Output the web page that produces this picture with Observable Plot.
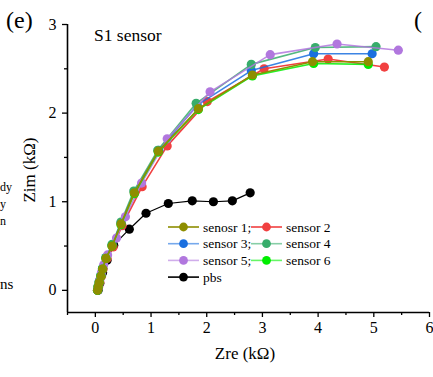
<!DOCTYPE html>
<html>
<head>
<meta charset="utf-8">
<script src="https://cdn.jsdelivr.net/npm/d3@7"></script>
<script src="https://cdn.jsdelivr.net/npm/@observablehq/plot@0.6"></script>
<style>
  body { margin: 0; background: #fff; }
  #wrap { position: relative; width: 433px; height: 377px; overflow: hidden; font-family: "Liberation Serif", Tinos, "Times New Roman", "DejaVu Serif", serif; color: #000; }
  .t { position: absolute; white-space: nowrap; line-height: 1; }
</style>
</head>
<body>
<div id="wrap"></div>
<script>
// ---- data (Zre kΩ, Zim kΩ) ----
const seriesNames = ["senosr 1;", "sensor 2", "sensor 3;", "sensor 4", "sensor 5;", "sensor 6", "pbs"];
const seriesColors = ["#8E8E00", "#F14040", "#1A6FDF", "#37AD6B", "#B177DE", "#00EE00", "#000000"];

const sensor1 = [[0.04,0.0],[0.05,0.04],[0.07,0.09],[0.10,0.16],[0.13,0.24],[0.19,0.36],[0.30,0.50],[0.46,0.75],[0.70,1.10],[1.13,1.57],[1.85,2.05],[2.82,2.43],[3.90,2.58],[4.90,2.58]];
const sensor2 = [[0.04,0.0],[0.06,0.04],[0.08,0.09],[0.11,0.16],[0.14,0.24],[0.21,0.36],[0.32,0.49],[0.48,0.73],[0.84,1.17],[1.29,1.63],[2.01,2.13],[3.03,2.50],[4.18,2.61],[5.19,2.52]];
const sensor3 = [[0.04,0.0],[0.05,0.04],[0.07,0.10],[0.10,0.17],[0.13,0.25],[0.19,0.37],[0.30,0.51],[0.46,0.76],[0.70,1.11],[1.14,1.58],[1.83,2.09],[2.80,2.48],[3.92,2.67],[4.97,2.67]];
const sensor4 = [[0.04,0.0],[0.05,0.05],[0.07,0.10],[0.10,0.17],[0.13,0.25],[0.19,0.37],[0.30,0.52],[0.46,0.77],[0.69,1.12],[1.12,1.58],[1.81,2.11],[2.80,2.55],[3.95,2.74],[5.04,2.75]];
const sensor5 = [[0.04,0.01],[0.06,0.06],[0.08,0.12],[0.11,0.20],[0.15,0.29],[0.22,0.40],[0.38,0.59],[0.54,0.83],[0.83,1.21],[1.29,1.71],[2.06,2.24],[3.14,2.66],[4.34,2.78],[5.44,2.71]];
const sensor6 = [[0.04,0.0],[0.05,0.04],[0.07,0.09],[0.10,0.16],[0.13,0.24],[0.19,0.36],[0.30,0.50],[0.46,0.74],[0.70,1.09],[1.13,1.56],[1.85,2.04],[2.82,2.42],[3.92,2.56],[4.90,2.55]];
const pbs     = [[0.05,0.0],[0.08,0.08],[0.13,0.20],[0.21,0.34],[0.33,0.51],[0.61,0.69],[0.91,0.87],[1.31,0.98],[1.74,1.01],[2.12,1.00],[2.46,1.01],[2.78,1.10]];

const xDomain = [-0.5, 6];
const yDomain = [-0.25, 3];
const xMajor = [0, 1, 2, 3, 4, 5, 6];
const xMinor = [-0.5, 0.5, 1.5, 2.5, 3.5, 4.5, 5.5];
const yMajor = [0, 1, 2, 3];
const yMinor = [0.5, 1.5, 2.5];

const allSeries = [sensor1, sensor2, sensor3, sensor4, sensor5, sensor6, pbs];
const drawOrder = [6, 1, 2, 3, 4, 5, 0];
const serif = "'Liberation Serif', Tinos, 'Times New Roman', 'DejaVu Serif', serif";

const lineMarks = [];
for (const i of drawOrder) {
  const d = allSeries[i];
  const c = seriesColors[i];
  lineMarks.push(Plot.line(d, {x: p => p[0], y: p => p[1], stroke: c, strokeWidth: i === 6 ? 1.2 : 1.6, strokeOpacity: (i >= 2 && i <= 5) ? 0.85 : 1}));
  lineMarks.push(Plot.dot(d, {x: p => p[0], y: p => p[1], fill: c, r: 4.6, stroke: "none"}));
}

const chart = Plot.plot({
  width: 433, height: 377,
  marginLeft: 67, marginRight: 4, marginTop: 24, marginBottom: 65,
  x: {domain: xDomain},
  y: {domain: yDomain},
  style: {fontFamily: serif, fontSize: "16px", color: "#000", background: "transparent", overflow: "visible"},
  marks: [
    Plot.axisX({ticks: xMinor, tickSize: 3, tickFormat: () => "", label: null, strokeWidth: 1.3}),
    Plot.axisX({ticks: xMajor, tickSize: 5, tickPadding: 4, tickFormat: d => String(d), label: null, strokeWidth: 1.3, fontFamily: serif, fontSize: 16}),
    Plot.axisY({ticks: yMinor, tickSize: 3, tickFormat: () => "", label: null, strokeWidth: 1.3}),
    Plot.axisY({ticks: yMajor, tickSize: 5, tickPadding: 6, tickFormat: d => String(d), label: null, strokeWidth: 1.3, fontFamily: serif, fontSize: 16}),
    Plot.ruleY([yDomain[0]], {stroke: "#000", strokeWidth: 1.6}),
    Plot.ruleX([xDomain[0]], {stroke: "#000", strokeWidth: 1.6}),
    ...lineMarks
  ]
});

const wrap = document.getElementById("wrap");
chart.style.position = "absolute";
chart.style.left = "0px";
chart.style.top = "0px";
wrap.appendChild(chart);

function addText(txt, css) {
  const el = document.createElement("div");
  el.className = "t";
  el.textContent = txt;
  el.style.fontFamily = serif;
  Object.assign(el.style, css);
  wrap.appendChild(el);
  return el;
}

addText("(e)", {left: "6px", top: "8px", fontSize: "24px"});
addText("S1 sensor", {left: "94px", top: "27px", fontSize: "17.5px"});
addText("Zre (kΩ)", {left: "245px", top: "345px", fontSize: "17px", transform: "translateX(-50%)"});
addText("Zim (kΩ)", {left: "29px", top: "170px", fontSize: "17px", transform: "translate(-50%,-50%) rotate(-90deg)"});
addText("(", {left: "414px", top: "8px", fontSize: "24px"});
// fragments of neighbouring panel at the left edge
addText("dy", {left: "0px", top: "181px", fontSize: "12px"});
addText("y", {left: "0px", top: "198px", fontSize: "12px"});
addText("n", {left: "0px", top: "215px", fontSize: "12px"});
addText("ns", {left: "0px", top: "277px", fontSize: "15px"});

// legend
const lg = d3.create("svg").attr("width", 200).attr("height", 80)
  .style("position", "absolute").style("left", "166px").style("top", "218px").style("overflow", "visible");
const legendRows = [[0, 1], [2, 3], [4, 5], [6]];
legendRows.forEach((row, r) => {
  row.forEach((i, c) => {
    const x0 = c === 0 ? 2 : 85;
    const y0 = 9 + r * 16.7;
    const col = seriesColors[i];
    lg.append("line").attr("x1", x0).attr("x2", x0 + 31).attr("y1", y0).attr("y2", y0)
      .attr("stroke", col).attr("stroke-width", 1.6).attr("stroke-opacity", (i >= 2 && i <= 5) ? 0.6 : 1);
    lg.append("circle").attr("cx", x0 + 15.5).attr("cy", y0).attr("r", 4.4).attr("fill", col);
    lg.append("text").attr("x", x0 + 35).attr("y", y0).attr("dy", "0.35em")
      .style("font-family", serif).style("font-size", "13.5px").text(seriesNames[i]);
  });
});
wrap.appendChild(lg.node());
</script>
</body>
</html>
